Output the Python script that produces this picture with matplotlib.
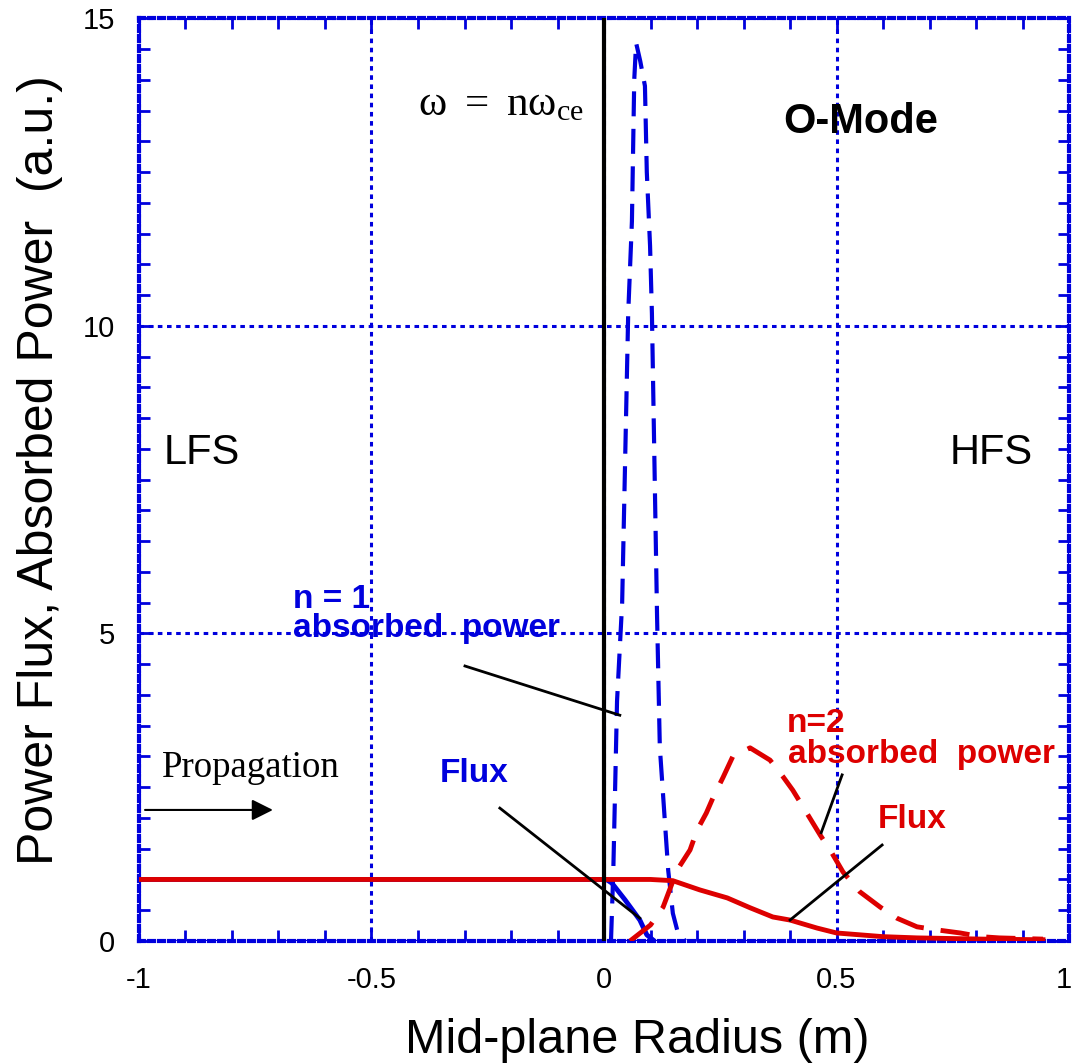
import numpy as np
import matplotlib
matplotlib.use('Agg')
import matplotlib.pyplot as plt
from matplotlib.transforms import ScaledTranslation

plt.rcParams['font.family'] = ['Liberation Sans', 'DejaVu Sans']
plt.rcParams['mathtext.fontset'] = 'custom'
plt.rcParams['mathtext.rm'] = 'Liberation Serif'
plt.rcParams['mathtext.it'] = 'Liberation Serif'

BLUE = '#0000dd'
RED = '#dd0000'

# n = 1 absorbed power (blue dashed)
n1_abs_x = [0.015, 0.02, 0.028, 0.039, 0.052, 0.06, 0.065, 0.069, 0.078, 0.088,
            0.092, 0.099, 0.103, 0.114, 0.12, 0.138, 0.148, 0.16, 0.175]
n1_abs_y = [0.0, 1.15, 3.9, 5.5, 10.2, 11.7, 14.0, 14.6, 14.3, 13.9,
            12.5, 11.3, 10.2, 5.3, 3.15, 1.15, 0.45, 0.1, 0.0]

# n = 1 flux (blue solid)
n1_flux_x = [-1.0, 0.005, 0.017, 0.045, 0.077, 0.092, 0.108]
n1_flux_y = [1.0, 1.0, 0.94, 0.67, 0.34, 0.1, 0.0]

# n = 2 absorbed power (red dashed)
n2_abs_x = [0.056, 0.1, 0.127, 0.157, 0.185, 0.2, 0.22, 0.235, 0.256, 0.277,
            0.314, 0.357, 0.385, 0.406, 0.436, 0.465, 0.49, 0.514, 0.55, 0.594,
            0.63, 0.673, 0.716, 0.766, 0.81, 0.85, 0.944]
n2_abs_y = [0.0, 0.26, 0.55, 1.15, 1.48, 1.8, 2.08, 2.34, 2.66, 3.0,
            3.14, 2.94, 2.67, 2.45, 2.08, 1.72, 1.43, 1.12, 0.8, 0.55,
            0.37, 0.23, 0.18, 0.13, 0.07, 0.05, 0.03]

# n = 2 flux (red solid)
n2_flux_x = [-1.0, 0.1, 0.148, 0.206, 0.265, 0.314, 0.363, 0.4, 0.458, 0.5,
             0.6, 0.673, 0.815, 0.944]
n2_flux_y = [1.0, 1.0, 0.98, 0.83, 0.70, 0.54, 0.39, 0.34, 0.21, 0.13,
             0.07, 0.05, 0.03, 0.02]

xticks = [-1, -0.5, 0, 0.5, 1]
xticklabels = ['-1', '-0.5', '0', '0.5', '1']
yticks = [0, 5, 10, 15]

fig = plt.figure(figsize=(10.74, 10.63), dpi=100)
ax = fig.add_axes([0.1294, 0.1148, 0.866, 0.868])

ax.plot(n1_flux_x, n1_flux_y, color=BLUE, lw=3.5, solid_capstyle='butt', zorder=3)
ax.plot(n1_abs_x, n1_abs_y, color=BLUE, lw=3, dashes=(6, 3), zorder=3)
ax.plot(n2_flux_x, n2_flux_y, color=RED, lw=3.5, zorder=4)
ax.plot(n2_abs_x, n2_abs_y, color=RED, lw=3.5, dashes=(6, 3.5), zorder=4)

# resonance line
ax.plot([0, 0], [0, 15], color='black', lw=3, zorder=5)

ax.set_xlim(-1, 1)
ax.set_ylim(0, 15)
ax.set_xticks(xticks)
ax.set_xticklabels(xticklabels)
ax.set_yticks(yticks)
ax.set_xticks(np.arange(-1, 1.01, 0.1), minor=True)
ax.set_yticks(np.arange(0, 15.1, 0.5), minor=True)
ax.tick_params(which='both', direction='in', top=True, right=True,
               color=BLUE, width=2, labelsize=21)
ax.tick_params(which='major', length=10)
ax.tick_params(which='minor', length=8)
ax.tick_params(axis='x', pad=18)
ax.tick_params(axis='y', pad=17)
ax.grid(True, which='major', color=BLUE, linestyle=(0, (1.5, 1.5)), lw=2.2)

# keep the last x label inside the figure
last = ax.get_xticklabels()[-1]
last.set_transform(last.get_transform() + ScaledTranslation(-0.05, 0, fig.dpi_scale_trans))

for sp in ax.spines.values():
    sp.set_color(BLUE)
    sp.set_linestyle((0, (1.2, 1.2)))
    sp.set_linewidth(3)

fig.text(0.593, 0.0216, 'Mid-plane Radius (m)', fontsize=35, ha='center', va='center')
fig.text(0.0372, 0.558, 'Power Flux, Absorbed Power  (a.u.)', fontsize=36,
         ha='center', va='center', rotation=90)

# labels
ax.text(-0.4, 13.42, r'$\mathrm{\omega\ =\ n\omega_{ce}}$', fontsize=31,
        ha='left', va='baseline')
ax.text(0.385, 13.13, 'O-Mode', fontsize=30, fontweight='bold', ha='left', va='baseline')
ax.text(-0.946, 7.75, 'LFS', fontsize=30, ha='left', va='baseline')
ax.text(0.744, 7.75, 'HFS', fontsize=30, ha='left', va='baseline')

ax.text(-0.669, 5.42, 'n = 1', fontsize=24, fontweight='bold', color=BLUE,
        ha='left', va='baseline')
ax.text(-0.669, 4.94, 'absorbed  power', fontsize=24, fontweight='bold', color=BLUE,
        ha='left', va='baseline')
ax.text(-0.353, 2.58, 'Flux', fontsize=24, fontweight='bold', color=BLUE,
        ha='left', va='baseline')
ax.text(0.394, 3.40, 'n=2', fontsize=24, fontweight='bold', color=RED,
        ha='left', va='baseline')
ax.text(0.396, 2.89, 'absorbed  power', fontsize=24, fontweight='bold', color=RED,
        ha='left', va='baseline')
ax.text(0.589, 1.84, 'Flux', fontsize=24, fontweight='bold', color=RED,
        ha='left', va='baseline')

ax.text(-0.951, 2.67, 'Propagation', fontsize=26.5, family='Liberation Serif',
        ha='left', va='baseline')
ax.annotate('', xy=(-0.712, 2.13), xytext=(-0.987, 2.13),
            arrowprops=dict(arrowstyle='-|>', color='black', lw=1.5,
                            mutation_scale=32, shrinkA=0, shrinkB=0))

# leader lines
leaders = [((-0.299, 4.47), (0.034, 3.67)),
           ((-0.224, 2.16), (0.077, 0.37)),
           ((0.512, 2.70), (0.467, 1.76)),
           ((0.598, 1.56), (0.40, 0.34))]
for p0, p1 in leaders:
    ax.plot([p0[0], p1[0]], [p0[1], p1[1]], color='black', lw=2, zorder=6)

fig.savefig('out.png', dpi=100)
